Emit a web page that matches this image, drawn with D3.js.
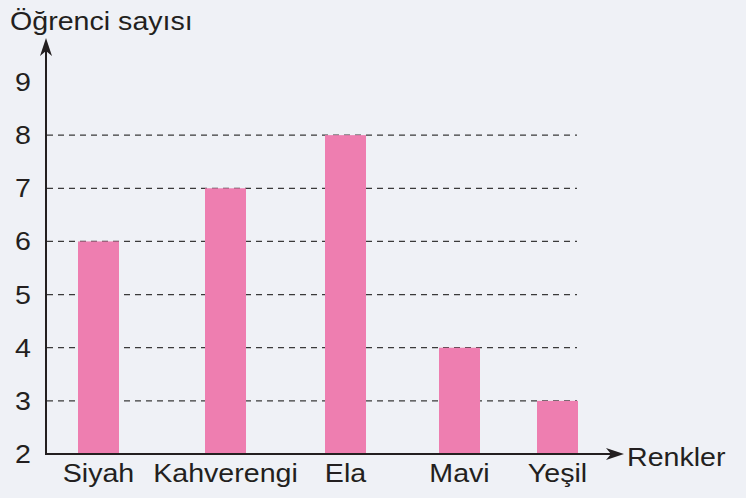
<!DOCTYPE html>
<html>
<head>
<meta charset="utf-8">
<script src="https://cdn.jsdelivr.net/npm/d3@7"></script>
<style>
  html, body { margin: 0; padding: 0; background: #eff1f6; }
  svg { display: block; }
  text { font-family: "Liberation Sans", Arial, sans-serif; fill: #231f20; }
</style>
</head>
<body>
<svg id="chart" width="746" height="498"></svg>
<script>
// ---- data ----
const categories = ["Siyah", "Kahverengi", "Ela", "Mavi", "Yeşil"];
const values = [6, 7, 8, 4, 3];
const yTicks = [2, 3, 4, 5, 6, 7, 8, 9];
const gridTicks = [3, 4, 5, 6, 7, 8];
const yTitle = "Öğrenci sayısı";
const xTitle = "Renkler";

// ---- layout ----
const W = 746, H = 498;
const x0 = 46, y0 = 454;
const barW = 41;
const fs = 26, sx = 1.1;

const svg = d3.select("#chart");
svg.append("rect").attr("width", W).attr("height", H).attr("fill", "#eff1f6");

const y = d3.scaleLinear().domain([2, 9]).range([y0, 82]);
const x = d3.scaleOrdinal().domain(categories).range([98.5, 225.5, 345.5, 459.5, 557.5]);

// gridlines
svg.append("g").selectAll("line").data(gridTicks).join("line")
  .attr("x1", x0 + 1).attr("x2", 577)
  .attr("y1", d => y(d)).attr("y2", d => y(d))
  .attr("stroke", "#3a3a3a").attr("stroke-width", 1.3)
  .attr("stroke-dasharray", "6,5");

// bars
svg.append("g").selectAll("rect").data(values).join("rect")
  .attr("x", (d, i) => x(categories[i]) - barW / 2)
  .attr("width", barW)
  .attr("y", d => y(d))
  .attr("height", d => y0 - y(d))
  .attr("fill", "#ee7eb0");

// axes
const ax = svg.append("g").attr("stroke", "#231f20").attr("stroke-width", 2);
ax.append("line").attr("x1", x0).attr("x2", x0).attr("y1", y0 + 1).attr("y2", 50);
ax.append("line").attr("x1", x0 - 1).attr("x2", 612).attr("y1", y0).attr("y2", y0);
svg.append("path").attr("d", `M${x0},38 L${x0 - 6},56 L${x0},51 L${x0 + 6},56 Z`).attr("fill", "#231f20");
svg.append("path").attr("d", `M624,${y0} L606,${y0 - 6} L611,${y0} L606,${y0 + 6} Z`).attr("fill", "#231f20");

function txt(g, s, tx, ty, anchor) {
  g.append("g").attr("transform", `translate(${tx},${ty}) scale(${sx},1)`)
    .append("text").attr("text-anchor", anchor).attr("font-size", fs).text(s);
}

// y tick labels
const yl = svg.append("g");
yTicks.forEach(t => txt(yl, t, 23, y(t) + 9, "middle"));

// x labels
const xl = svg.append("g");
categories.forEach(c => txt(xl, c, x(c), 482, "middle"));

// titles
txt(svg, yTitle, 10, 30, "start");
txt(svg, xTitle, 627, 466, "start");
</script>
</body>
</html>
